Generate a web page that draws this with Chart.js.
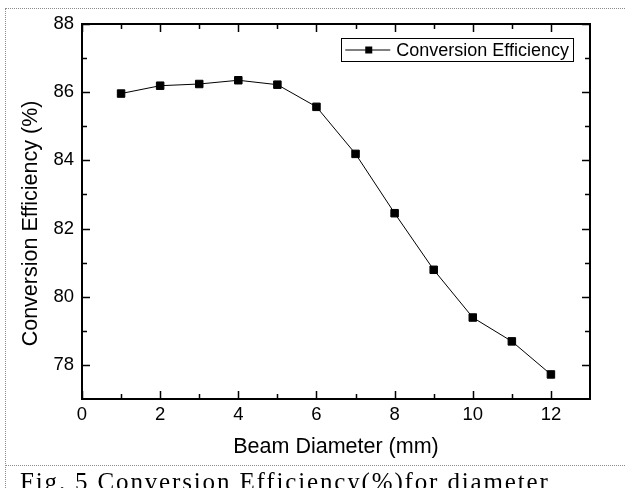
<!DOCTYPE html>
<html>
<head>
<meta charset="utf-8">
<script src="https://cdn.jsdelivr.net/npm/chart.js@4.4.0/dist/chart.umd.min.js"></script>
<style>
  html, body { margin: 0; padding: 0; background: #fff; }
  #wrap { position: relative; width: 625px; height: 488px; overflow: hidden; background: #fff; }
  .dot-h { position: absolute; left: 5px; right: 0; height: 0; border-top: 1px dotted #8c8c8c; }
  .dot-v { position: absolute; left: 5px; top: 8px; bottom: 0; width: 0; border-left: 1px dotted #8c8c8c; }
  #chart { position: absolute; left: 0; top: 0; }
  #caption {
    position: absolute; left: 20px; top: 469px;
    font-family: 'Liberation Serif', 'Times New Roman', serif;
    font-size: 25px; line-height: 25px; letter-spacing: 1.85px;
    white-space: nowrap; color: #000;
  }
</style>
</head>
<body>
<div id="wrap">
  <div class="dot-h" style="top:8px"></div>
  <div class="dot-v"></div>
  <div class="dot-h" style="top:465px"></div>
  <canvas id="chart" width="625" height="488"></canvas>
  <div id="caption">Fig. 5 Conversion Efficiency(%)for diameter</div>
</div>
<script>
// ─── Data ─────────────────────────────────────────────
const diameters  = [1, 2, 3, 4, 5, 6, 7, 8, 9, 10, 11, 12];
const efficiency = [85.96, 86.19, 86.24, 86.35, 86.22, 85.57, 84.19, 82.45, 80.79, 79.39, 78.69, 77.72];

const xTicks = [0, 2, 4, 6, 8, 10, 12];
const xMinor = [1, 3, 5, 7, 9, 11];
const yTicks = [78, 80, 82, 84, 86, 88];
const yMinor = [79, 81, 83, 85, 87];

const SANS = "'Liberation Sans', Arial, sans-serif";

// ─── Frame with inward ticks on all four sides ────────
const frameTicks = {
  id: 'frameTicks',
  afterDatasetsDraw(chart) {
    const { ctx, chartArea: a, scales: { x, y } } = chart;
    ctx.save();
    ctx.strokeStyle = '#000';
    ctx.lineWidth = 1.5;
    ctx.beginPath();
    const tick = (list, len) => {
      list.forEach(v => {
        const px = Math.round(x.getPixelForValue(v)) + 0.5;
        ctx.moveTo(px, a.bottom); ctx.lineTo(px, a.bottom - len);
        ctx.moveTo(px, a.top);    ctx.lineTo(px, a.top + len);
      });
    };
    const ytick = (list, len) => {
      list.forEach(v => {
        const py = Math.round(y.getPixelForValue(v)) + 0.5;
        ctx.moveTo(a.left, py);  ctx.lineTo(a.left + len, py);
        ctx.moveTo(a.right, py); ctx.lineTo(a.right - len, py);
      });
    };
    tick(xTicks, 8);
    tick(xMinor, 5);
    ytick(yTicks, 8);
    ytick(yMinor, 5);
    ctx.stroke();
    ctx.lineWidth = 2;
    ctx.strokeRect(a.left, a.top, a.right - a.left, a.bottom - a.top);
    ctx.restore();
  }
};

// ─── Boxed legend, top right ──────────────────────────
const boxLegend = {
  id: 'boxLegend',
  afterDraw(chart) {
    const { ctx, chartArea: a } = chart;
    const ds = chart.data.datasets[0];
    ctx.save();
    ctx.font = '18px ' + SANS;
    const tw = ctx.measureText(ds.label).width;
    const w = 55 + tw + 4, h = 23;
    const right = a.right - 17, top = a.top + 14;
    const left = right - w;
    ctx.strokeStyle = '#000';
    ctx.lineWidth = 1;
    ctx.strokeRect(Math.round(left) + 0.5, top + 0.5, Math.round(w), h);
    const cy = top + h / 2 + 0.5;
    ctx.beginPath();
    ctx.moveTo(left + 4, cy); ctx.lineTo(left + 49, cy);
    ctx.stroke();
    ctx.fillStyle = '#000';
    ctx.fillRect(left + 24, cy - 3.5, 7, 7);
    ctx.textBaseline = 'middle';
    ctx.textAlign = 'left';
    ctx.fillText(ds.label, left + 55, cy + 1);
    ctx.restore();
  }
};

new Chart(document.getElementById('chart'), {
  type: 'line',
  data: {
    datasets: [{
      label: 'Conversion Efficiency',
      data: diameters.map((d, i) => ({ x: d, y: efficiency[i] })),
      borderColor: '#000',
      borderWidth: 1,
      backgroundColor: '#000',
      pointStyle: 'rect',
      pointRadius: 5.3,
      pointBorderWidth: 1,
      pointBackgroundColor: '#000',
      pointBorderColor: '#000',
      tension: 0,
      fill: false,
    }],
  },
  options: {
    responsive: false,
    animation: false,
    layout: { padding: { top: 24, right: 35, left: 0, bottom: 0 } },
    plugins: {
      legend: { display: false },
      tooltip: { enabled: false },
    },
    scales: {
      x: {
        type: 'linear',
        min: 0, max: 13,
        grid: { display: false, drawTicks: false },
        border: { display: false },
        ticks: { color: '#000', font: { size: 18.5, family: SANS }, padding: 5, maxRotation: 0 },
        afterBuildTicks: s => { s.ticks = xTicks.map(v => ({ value: v })); },
        afterFit: s => { s.height = 89; },
        title: {
          display: true, text: 'Beam Diameter (mm)', color: '#000',
          font: { size: 21.5, family: SANS }, padding: { top: 0, bottom: 28 },
        },
      },
      y: {
        min: 77, max: 88,
        grid: { display: false, drawTicks: false },
        border: { display: false },
        ticks: { color: '#000', font: { size: 18.5, family: SANS }, padding: 8 },
        afterBuildTicks: s => { s.ticks = yTicks.map(v => ({ value: v })); },
        afterFit: s => { s.width = 82; },
        title: {
          display: true, text: 'Conversion Efficiency (%)    ', color: '#000',
          font: { size: 21.5, family: SANS }, padding: { top: 18, bottom: 0 },
        },
      },
    },
  },
  plugins: [frameTicks, boxLegend],
});
</script>
</body>
</html>
